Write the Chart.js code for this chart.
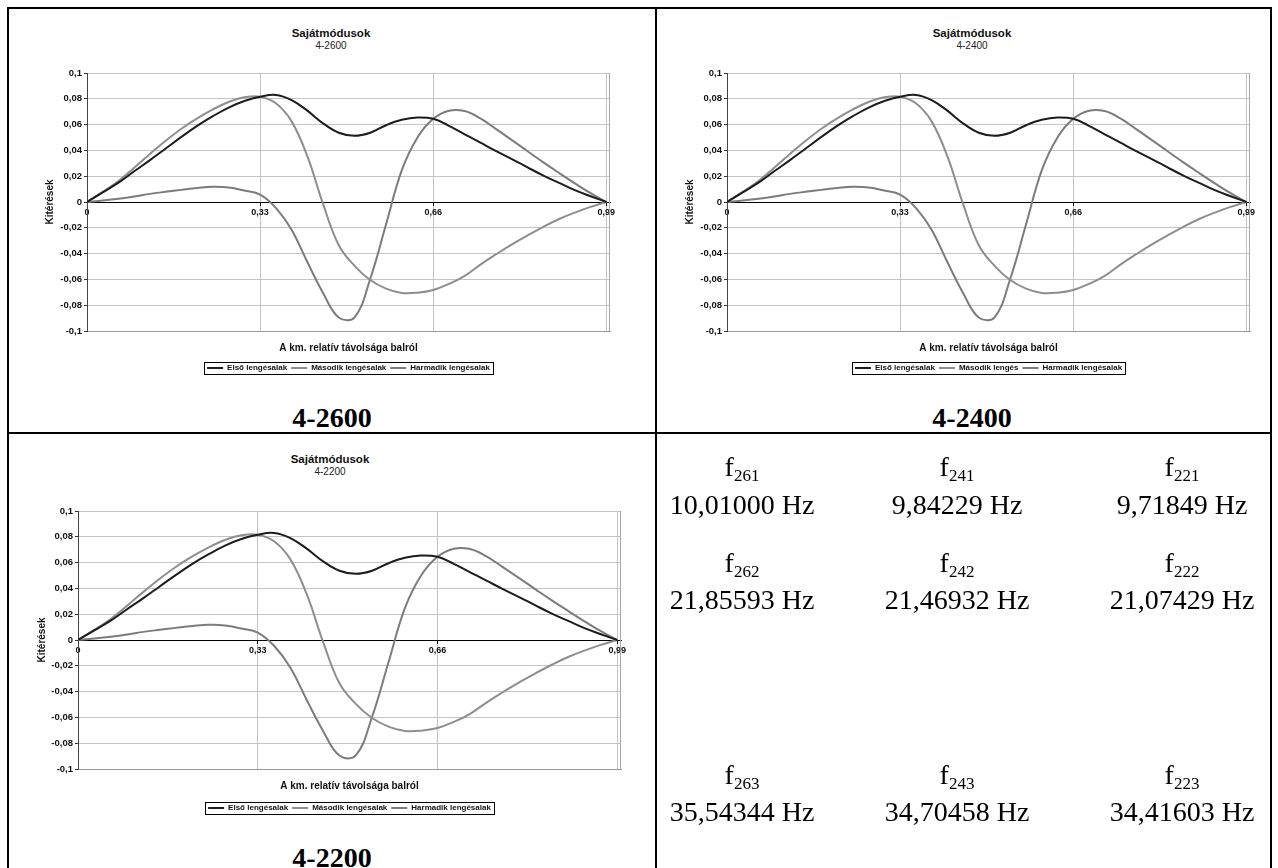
<!DOCTYPE html>
<html lang="hu">
<head>
<meta charset="utf-8">
<title>Sajátmódusok</title>
<script src="https://cdn.jsdelivr.net/npm/chart.js@4.4.1/dist/chart.umd.min.js"></script>
<style>
	html, body { margin: 0; padding: 0; background: #fff; overflow: hidden; }
	body { width: 1278px; height: 868px; position: relative; font-family: "Liberation Sans", Arial, sans-serif; }
	.rule { position: absolute; background: #000; }
	canvas { position: absolute; }
	.ctitle { position: absolute; width: 200px; text-align: center; color: #111; }
	.ctitle b { display: block; font-size: 11.5px; line-height: 12px; color: #111; }
	.ctitle span { display: block; font-size: 10px; line-height: 13px; color: #222; }
	.caption { position: absolute; width: 200px; text-align: center; font-family: "Liberation Serif", "Times New Roman", serif; font-weight: bold; font-size: 28px; line-height: 28px; color: #000; }
	.freq { position: absolute; width: 220px; text-align: center; font-family: "Liberation Serif", "Times New Roman", serif; font-size: 28px; line-height: 28px; color: #000; }
	.freq sub { font-size: 17px; vertical-align: -5px; line-height: 0; }
</style>
</head>
<body>
<div class="rule" style="left:7px;top:7px;width:1265px;height:2px"></div>
<div class="rule" style="left:7px;top:7px;width:2px;height:861px"></div>
<div class="rule" style="left:1270px;top:7px;width:2px;height:861px"></div>
<div class="rule" style="left:7px;top:432px;width:1265px;height:2px"></div>
<div class="rule" style="left:655px;top:7px;width:2px;height:861px"></div>

<div class="ctitle" style="left:231px;top:27px"><b>Sajátmódusok</b><span>4-2600</span></div>
<div class="ctitle" style="left:872px;top:27px"><b>Sajátmódusok</b><span>4-2400</span></div>
<div class="ctitle" style="left:230px;top:453px"><b>Sajátmódusok</b><span>4-2200</span></div>

<canvas id="chart1" width="677" height="374" style="left:10px;top:8px"></canvas>
<canvas id="chart2" width="677" height="374" style="left:650px;top:8px"></canvas>
<canvas id="chart3" width="697" height="376" style="left:1px;top:446px"></canvas>

<div class="caption" style="left:232px;top:404px">4-2600</div>
<div class="caption" style="left:872px;top:404px">4-2400</div>
<div class="caption" style="left:232px;top:844px">4-2200</div>

<div id="freqs"></div>

<script>
// x positions (relative distance from the left end)
const xVals = [0, 0.03, 0.06, 0.09, 0.12, 0.15, 0.18, 0.21, 0.24, 0.27, 0.3, 0.33, 0.36, 0.39, 0.42, 0.45, 0.48,
	0.51, 0.54, 0.57, 0.6, 0.63, 0.66, 0.69, 0.72, 0.75, 0.78, 0.81, 0.84, 0.87, 0.9, 0.93, 0.96, 0.99];

// Első lengésalak
const elso = [0, 0.0075, 0.015, 0.0238, 0.0325, 0.0415, 0.0505, 0.059, 0.0665, 0.0732, 0.0783, 0.0816, 0.083,
	0.079, 0.0708, 0.061, 0.0537, 0.0513, 0.0537, 0.0595, 0.0637, 0.0655, 0.0645, 0.059, 0.0525, 0.046, 0.0395,
	0.0333, 0.0268, 0.0205, 0.0148, 0.0092, 0.0045, 0];

// Második lengésalak
const masodik = [0, 0.0078, 0.0163, 0.0265, 0.0373, 0.0475, 0.0568, 0.0648, 0.0718, 0.0775, 0.0812, 0.0816,
	0.0765, 0.0625, 0.0355, -0.0015, -0.0335, -0.0495, -0.0605, -0.0672, -0.0705, -0.0703, -0.0682, -0.0635,
	-0.0572, -0.0485, -0.0405, -0.0328, -0.0258, -0.0192, -0.0132, -0.0082, -0.0038, 0];

// Harmadik lengésalak
const harmadik = [0, 0.0012, 0.0026, 0.0043, 0.0063, 0.0079, 0.0094, 0.0108, 0.0118, 0.0113, 0.0089, 0.0058,
	-0.0045, -0.0215, -0.0465, -0.0705, -0.0895, -0.0895, -0.0595, -0.0175, 0.0245, 0.05, 0.0645, 0.0708, 0.0705,
	0.0648, 0.0565, 0.048, 0.0393, 0.0307, 0.0225, 0.0145, 0.0068, 0];

const xTickVals = [0, 0.33, 0.66, 0.99];
const xMax = 0.997;
const yMin = -0.1;
const yMax = 0.1;
const yStep = 0.02;

const legend2600 = ["Első lengésalak", "Második lengésalak", "Harmadik lengésalak"];
const legend2400 = ["Első lengésalak", "Második lengés", "Harmadik lengésalak"];
const legend2200 = ["Első lengésalak", "Második lengésalak", "Harmadik lengésalak"];
const lineColors = ["#1c1c1c", "#8e8e8e", "#7c7c7c"];

const xTitle = "A km. relatív távolsága balról";
const yTitle = "Kitérések";

const freqNames = [
	["261", "241", "221"],
	["262", "242", "222"],
	["263", "243", "223"],
];
const freqValues = [
	["10,01000", "9,84229", "9,71849"],
	["21,85593", "21,46932", "21,07429"],
	["35,54344", "34,70458", "34,41603"],
];

Chart.defaults.font.family = "'Liberation Sans', Arial, sans-serif";
Chart.defaults.color = "#111";

function fmtComma(v) {
	const r = Math.round(v * 100) / 100;
	return String(r === 0 ? 0 : r).replace(".", ",");
}

// right edge of the plot area and a border round the legend
const frameBox = {
	id: "frameBox",
	beforeDatasetsDraw(chart) {
		const { ctx, chartArea: a } = chart;
		ctx.save();
		ctx.strokeStyle = "#a8a8a8";
		ctx.lineWidth = 1;
		ctx.beginPath();
		ctx.moveTo(Math.round(a.right) - 0.5, a.top);
		ctx.lineTo(Math.round(a.right) - 0.5, a.bottom);
		ctx.stroke();
		ctx.restore();
	},
	afterDraw(chart) {
		const boxes = chart.legend.legendHitBoxes;
		if (!boxes || !boxes.length) return;
		const left = Math.min(...boxes.map((b) => b.left)) - 3;
		const right = Math.max(...boxes.map((b) => b.left + b.width)) + 3;
		const top = Math.min(...boxes.map((b) => b.top)) - 2;
		const bottom = Math.max(...boxes.map((b) => b.top + b.height)) + 2;
		const ctx = chart.ctx;
		ctx.save();
		ctx.strokeStyle = "#000";
		ctx.lineWidth = 1;
		ctx.strokeRect(Math.round(left) + 0.5, Math.round(top) + 0.5, Math.round(right - left), Math.round(bottom - top));
		ctx.restore();
	},
};

function setXTicks(scale) {
	scale.ticks = xTickVals.map((v) => ({ value: v }));
}

function makeChart(id, labels, g) {
	const ctx = document.getElementById(id).getContext("2d");
	const series = [elso, masodik, harmadik];

	return new Chart(ctx, {
		type: "line",
		data: {
			datasets: series.map((arr, i) => ({
				label: labels[i],
				data: xVals.map((x, j) => ({ x: x, y: arr[j] })),
				borderColor: lineColors[i],
				backgroundColor: lineColors[i],
				borderWidth: 2,
				pointRadius: 0,
				tension: 0.4,
				fill: false,
			})),
		},
		options: {
			responsive: false,
			animation: false,
			layout: { padding: { left: 0, right: 0, top: g.top, bottom: 0 } },
			plugins: {
				legend: {
					position: "bottom",
					labels: {
						boxWidth: 16,
						boxHeight: 0,
						padding: 4,
						color: "#111",
						font: { size: 8, weight: "bold" },
					},
				},
				tooltip: { enabled: false },
			},
			scales: {
				x: {
					type: "linear",
					min: 0,
					max: xMax,
					afterBuildTicks: setXTicks,
					afterFit: (s) => {
						s.height = g.xHeight;
					},
					ticks: { display: false },
					grid: {
						color: (c) => (c.tick && c.tick.value === 0 ? "rgba(0,0,0,0)" : "#c4c4c4"),
						drawTicks: false,
					},
					border: { color: "#9a9a9a" },
					title: {
						display: true,
						text: xTitle,
						color: "#111",
						font: { size: 10, weight: "bold" },
						padding: { top: 0, bottom: g.xTitlePad },
					},
				},
				x2: {
					type: "linear",
					axis: "x",
					position: { y: 0 },
					min: 0,
					max: xMax,
					afterBuildTicks: setXTicks,
					grid: { drawOnChartArea: false, tickLength: 3, tickColor: "#000" },
					border: { color: "#000" },
					ticks: {
						color: "#111",
						font: { size: 9, weight: "bold" },
						padding: 2,
						maxRotation: 0,
						autoSkip: false,
						callback: (v) => fmtComma(v),
					},
				},
				y: {
					min: yMin,
					max: yMax,
					afterFit: (s) => {
						s.width = g.yWidth;
					},
					ticks: {
						stepSize: yStep,
						color: "#111",
						font: { size: 9.5, weight: "bold" },
						padding: 2,
						callback: (v) => fmtComma(v),
					},
					grid: {
						color: (c) => (Math.abs(c.tick.value) < 1e-9 ? "rgba(0,0,0,0)" : "#c4c4c4"),
						tickColor: "#333",
						tickLength: 3,
					},
					border: { color: "#444" },
					title: {
						display: true,
						text: yTitle,
						color: "#111",
						font: { size: 10, weight: "bold" },
						padding: { top: g.yTitlePad, bottom: 0 },
					},
				},
				// empty right axis, same width as the left one, so the legend centres under the plot
				y2: {
					position: "right",
					afterFit: (s) => {
						s.width = g.yWidth;
					},
					grid: { display: false },
					border: { display: false },
					ticks: { display: false },
				},
			},
		},
		plugins: [frameBox],
	});
}

function drawFreqs() {
	const box = document.getElementById("freqs");
	const colX = [742, 957, 1182];
	const nameY = [467, 563, 775];
	const valueY = [505, 600, 812];
	let html = "";
	for (let r = 0; r < freqNames.length; r++) {
		for (let c = 0; c < colX.length; c++) {
			html += `<div class="freq" style="left:${colX[c] - 110}px;top:${nameY[r] - 14}px">f<sub>${freqNames[r][c]}</sub></div>`;
			html += `<div class="freq" style="left:${colX[c] - 110}px;top:${valueY[r] - 14}px">${freqValues[r][c]} Hz</div>`;
		}
	}
	box.innerHTML = html;
}

makeChart("chart1", legend2600, { top: 65, yWidth: 77, yTitlePad: 34, xHeight: 29, xTitlePad: 6 });
makeChart("chart2", legend2400, { top: 65, yWidth: 77, yTitlePad: 34, xHeight: 29, xTitlePad: 6 });
makeChart("chart3", legend2200, { top: 65, yWidth: 77, yTitlePad: 35, xHeight: 31, xTitlePad: 8 });
drawFreqs();
</script>
</body>
</html>
